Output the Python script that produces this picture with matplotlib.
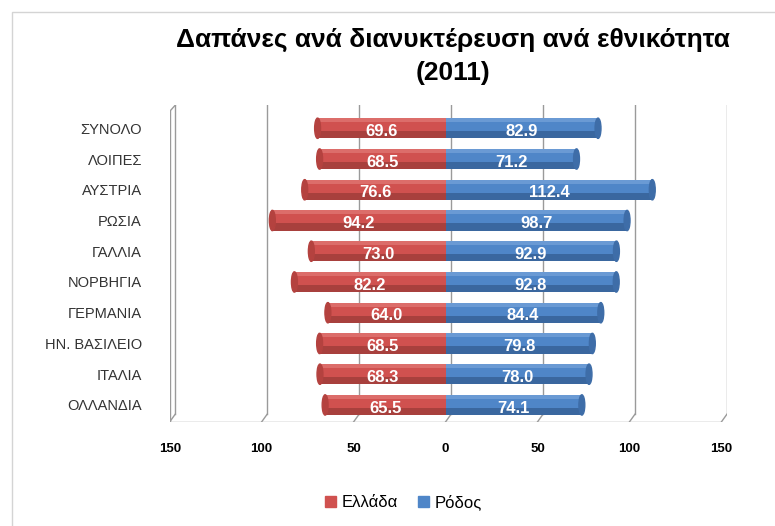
import matplotlib.pyplot as plt
import numpy as np
from matplotlib.patches import Ellipse

plt.rcParams['font.family'] = ['Liberation Sans', 'DejaVu Sans']

countries = ['ΟΛΛΑΝΔΙΑ', 'ΙΤΑΛΙΑ', 'ΗΝ. ΒΑΣΙΛΕΙΟ', 'ΓΕΡΜΑΝΙΑ', 'ΝΟΡΒΗΓΙΑ',
             'ΓΑΛΛΙΑ', 'ΡΩΣΙΑ', 'ΑΥΣΤΡΙΑ', 'ΛΟΙΠΕΣ', 'ΣΥΝΟΛΟ']
greece = [65.5, 68.3, 68.5, 64.0, 82.2, 73.0, 94.2, 76.6, 68.5, 69.6]
rhodes = [74.1, 78.0, 79.8, 84.4, 92.8, 92.9, 98.7, 112.4, 71.2, 82.9]
ticks = [-150, -100, -50, 0, 50, 100, 150]

red = '#D0514F'
blue = '#4F86C8'

fig = plt.figure(figsize=(7.75, 5.26), dpi=100)
fig.add_artist(plt.Rectangle((0.016, -0.1), 1.2, 1.077, transform=fig.transFigure,
                             fill=False, edgecolor='#d4d4d4', lw=1))
ax = fig.add_axes([0.219, 0.198, 0.719, 0.602])
y = np.arange(len(countries))
h = 0.66

# gridlines with a little fake depth
for t in ticks:
    ax.plot([t + 3, t + 3], [-0.3, 9.75], color='#9a9a9a', lw=1, zorder=0)
    ax.plot([t + 3, t], [-0.3, -0.55], color='#9a9a9a', lw=1, zorder=0)
ax.plot([-150, 150], [-0.55, -0.55], color='#9a9a9a', lw=1, zorder=0)
ax.plot([-150, -150], [-0.55, 9.55], color='#9a9a9a', lw=1, zorder=0)
ax.plot([-150, -147], [9.55, 9.75], color='#9a9a9a', lw=1, zorder=0)

neg = -np.array(greece)
ax.barh(y, neg, height=h, color=red, lw=0, zorder=2)
ax.barh(y, rhodes, height=h, color=blue, lw=0, zorder=2)
# shading: darker lower part
ax.barh(y - h * 0.32, neg, height=h * 0.36, color='#A8403D', lw=0, zorder=3)
ax.barh(y - h * 0.32, rhodes, height=h * 0.36, color='#3A679F', lw=0, zorder=3)
ax.barh(y + h * 0.40, neg, height=h * 0.2, color='#DC6D6A', lw=0, zorder=3)
ax.barh(y + h * 0.40, rhodes, height=h * 0.2, color='#6A9AD4', lw=0, zorder=3)
for yi, g, r in zip(y, greece, rhodes):
    ax.add_patch(Ellipse((-g, yi), 3.2, h, color='#B4423F', zorder=4))
    ax.add_patch(Ellipse((r, yi), 3.2, h, color='#3E6DA8', zorder=4))
    ax.text(-g / 2, yi - 0.1, f'{g:.1f}', color='white', fontsize=12,
            fontweight='bold', ha='center', va='center', zorder=5)
    ax.text(r / 2, yi - 0.1, f'{r:.1f}', color='white', fontsize=12,
            fontweight='bold', ha='center', va='center', zorder=5)

ax.set_xlim(-150, 153)
ax.set_ylim(-0.55, 9.75)
ax.set_yticks(y)
ax.set_yticklabels(countries, fontsize=10.5, color='#333333')
ax.set_xticks(ticks)
ax.set_xticklabels([str(abs(t)) for t in ticks], fontsize=9.5, fontweight='bold')
ax.tick_params(length=0)
ax.tick_params(axis='x', pad=15)
ax.tick_params(axis='y', pad=20)
for s in ax.spines.values():
    s.set_visible(False)

fig.text(0.584, 0.925, 'Δαπάνες ανά διανυκτέρευση ανά εθνικότητα', ha='center',
         va='center', fontsize=19, fontweight='bold')
fig.text(0.584, 0.862, '(2011)', ha='center', va='center', fontsize=19, fontweight='bold')

h1 = plt.Rectangle((0, 0), 1, 1, color=red)
h2 = plt.Rectangle((0, 0), 1, 1, color=blue)
fig.legend([h1, h2], ['Ελλάδα', 'Ρόδος'], loc='center', bbox_to_anchor=(0.52, 0.045),
           ncol=2, frameon=False, fontsize=12, handlelength=0.7, handleheight=0.7,
           handletextpad=0.3, columnspacing=1.2)

fig.savefig('out.png', dpi=100)
